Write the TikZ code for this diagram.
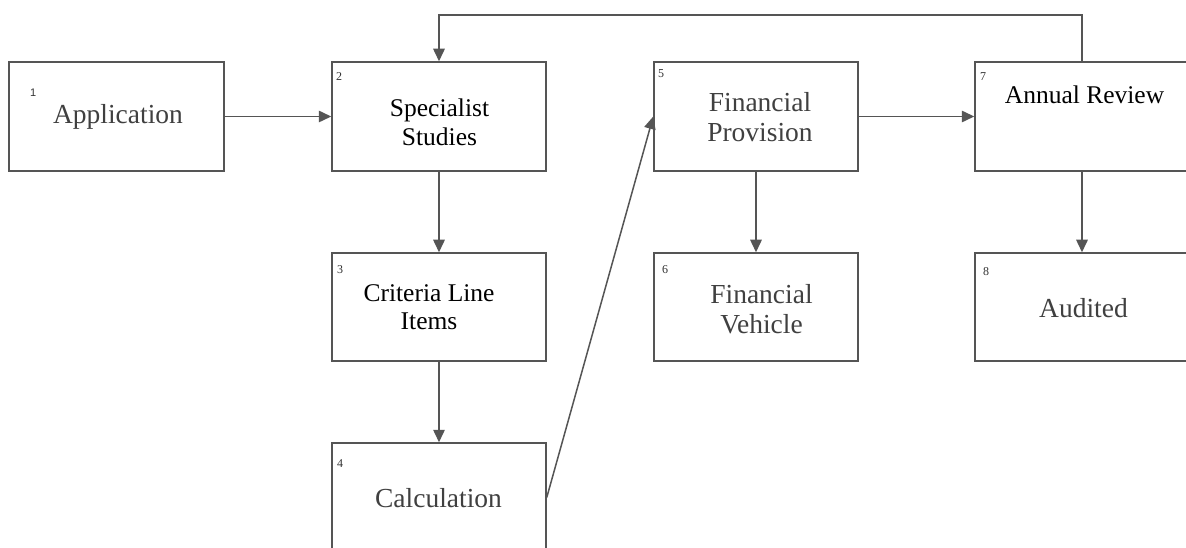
\documentclass[tikz,border=0pt]{standalone}
\usepackage{fontspec}
\setmainfont{Liberation Serif}
\newfontfamily\numsans{Liberation Sans}
\usetikzlibrary{arrows.meta}
\definecolor{linegray}{HTML}{555555}
\definecolor{txtgray}{HTML}{404040}
\definecolor{numgray}{HTML}{333333}
\tikzset{
  box/.style={draw=linegray, line width=1.5pt, rectangle, inner sep=0pt, fill=white},
  arr/.style={draw=linegray, line width=1.5pt, -{Triangle[length=12.5pt,width=11.5pt]}},
  bigtxt/.style={anchor=base, inner sep=0pt, text=txtgray, font=\fontsize{27.5}{30}\selectfont},
  blktxt/.style={anchor=base, inner sep=0pt, text=black, font=\fontsize{25.5}{29}\selectfont},
  num/.style={anchor=base west, inner sep=0pt, text=numgray, font=\fontsize{12}{12}\selectfont},
}
\begin{document}
\begin{tikzpicture}[x=1pt,y=-1pt]
\useasboundingbox (0,0) rectangle (1186,548);
\clip (0,0) rectangle (1186,548);
\fill[white] (0,0) rectangle (1186,548);
% boxes
\node[box, minimum width=215pt, minimum height=109pt] (b1) at (116.5,116.5) {};
\node[box, minimum width=214pt, minimum height=109pt] (b2) at (439,116.5) {};
\node[box, minimum width=214pt, minimum height=108pt] (b3) at (439,307) {};
\node[box, minimum width=214pt, minimum height=109pt] (b4) at (439,497.5) {};
\node[box, minimum width=204pt, minimum height=109pt] (b5) at (756,116.5) {};
\node[box, minimum width=204pt, minimum height=108pt] (b6) at (756,307) {};
\node[box, minimum width=214pt, minimum height=109pt] (b7) at (1082,116.5) {};
\node[box, minimum width=214pt, minimum height=108pt] (b8) at (1082,307) {};
% numbers
\node[num, font=\numsans\fontsize{11}{11}\selectfont] (n1) at (30,97) {1};
\node[num] (n2) at (336,81) {2};
\node[num] (n3) at (337,273) {3};
\node[num] (n4) at (337,467) {4};
\node[num] (n5) at (658,78) {5};
\node[num] (n6) at (662,273) {6};
\node[num] (n7) at (980,81) {7};
\node[num] (n8) at (983,276) {8};
% texts
\node[bigtxt] (t1) at (118,124) {Application};
\node[blktxt] (t2a) at (439.5,117) {Specialist};
\node[blktxt] (t2b) at (439.5,145.5) {Studies};
\node[blktxt] (t3a) at (429,301) {Criteria Line};
\node[blktxt] (t3b) at (429,329) {Items};
\node[bigtxt] (t4) at (438.5,507) {Calculation};
\node[bigtxt] (t5a) at (760,112) {Financial};
\node[bigtxt] (t5b) at (760,142) {Provision};
\node[bigtxt] (t6a) at (761.5,303) {Financial};
\node[bigtxt] (t6b) at (761.5,333) {Vehicle};
\node[blktxt] (t7) at (1084.5,104) {Annual Review};
\node[bigtxt] (t8) at (1083.5,317) {Audited};
% connectors
\draw[arr] (b1.east) -- (b2.west);
\draw[arr] (b2.south) -- (b3.north);
\draw[arr] (b3.south) -- (b4.north);
\draw[arr] (b4.east) -- (b5.west);
\draw[arr] (b5.south) -- (b6.north);
\draw[arr] (b5.east) -- (b7.west);
\draw[arr] (b7.south) -- (b8.north);
\coordinate (tr) at (1082,15);
\coordinate (tl) at (439,15);
\draw[arr] (b7.north) -- (tr) -- (tl) -- (b2.north);
\end{tikzpicture}
\end{document}
